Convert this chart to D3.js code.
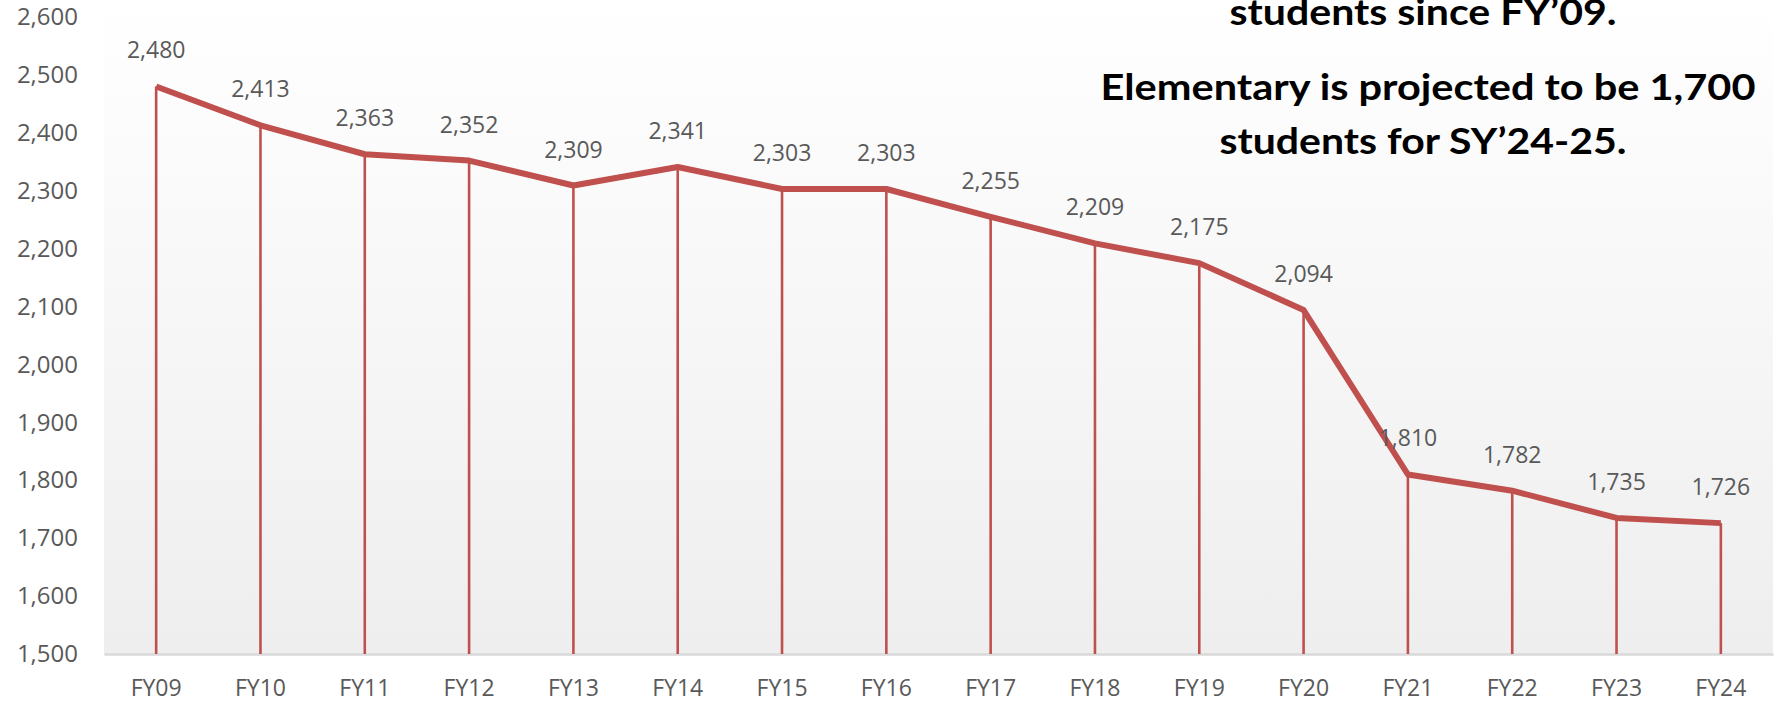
<!DOCTYPE html>
<html>
<head>
<meta charset="utf-8">
<script src="https://cdn.jsdelivr.net/npm/d3@7"></script>
<style>
  html, body { margin: 0; padding: 0; background: #fff; overflow: hidden; }
  svg { display: block; }
</style>
</head>
<body>
<div id="chart"></div>
<script>
// chart values
const years = ["FY09", "FY10", "FY11", "FY12", "FY13", "FY14", "FY15", "FY16",
               "FY17", "FY18", "FY19", "FY20", "FY21", "FY22", "FY23", "FY24"];
const enrollment = [2480, 2413, 2363, 2352, 2309, 2341, 2303, 2303,
                    2255, 2209, 2175, 2094, 1810, 1782, 1735, 1726];
const y_ticks = [1500, 1600, 1700, 1800, 1900, 2000, 2100, 2200, 2300, 2400, 2500, 2600];
const note_lines = ["students since FY\u201909.",
                    "Elementary is projected to be 1,700",
                    "students for SY\u201924-25."];

const width = 1777, height = 703;
const plot = {left: 104, right: 1773, top: 17, bottom: 654};
const C = {
  line_color: '#c0504d',
  text_color: '#595959',
  axis_color: '#d9d9d9',
  font: '"Open Sans", sans-serif',
};

const svg = d3.select('#chart').append('svg')
  .attr('width', width)
  .attr('height', height);

// plot area background, white fading to light grey
const grad = svg.append('defs').append('linearGradient')
  .attr('id', 'bg')
  .attr('x1', 0).attr('y1', 0).attr('x2', 0).attr('y2', 1);
grad.append('stop').attr('offset', '0%').attr('stop-color', '#ffffff');
grad.append('stop').attr('offset', '100%').attr('stop-color', '#eeeeee');

svg.append('rect')
  .attr('x', plot.left)
  .attr('y', 0)
  .attr('width', plot.right - plot.left)
  .attr('height', plot.bottom)
  .attr('fill', 'url(#bg)');

const X = d3.scaleBand().domain(years).range([plot.left, plot.right]);
const Y = d3.scaleLinear().domain([1500, 2600]).range([plot.bottom, plot.top]);
const cx = d => X(d) + X.bandwidth() / 2;

// y axis labels (no line, no ticks)
const y_axis = svg.append('g')
  .attr('transform', `translate(${plot.left},0)`)
  .call(d3.axisLeft(Y).tickValues(y_ticks).tickFormat(d3.format(',')).tickSize(0).tickPadding(26));
y_axis.select('.domain').remove();
y_axis.selectAll('text')
  .attr('font-family', C.font)
  .attr('font-size', 24)
  .attr('fill', C.text_color);

// x axis
const x_axis = svg.append('g')
  .attr('transform', `translate(0,${plot.bottom})`)
  .call(d3.axisBottom(X).tickSize(0).tickPadding(26));
x_axis.select('.domain')
  .attr('stroke', C.axis_color)
  .attr('stroke-width', 2.5);
x_axis.selectAll('text')
  .attr('font-family', C.font)
  .attr('font-size', 23)
  .attr('fill', C.text_color);

const pts = years.map((yr, i) => ({yr, v: enrollment[i]}));

// drop lines from each point to the axis
svg.append('g').selectAll('line')
  .data(pts)
  .join('line')
  .attr('x1', d => cx(d.yr))
  .attr('x2', d => cx(d.yr))
  .attr('y1', d => Y(d.v))
  .attr('y2', plot.bottom)
  .attr('stroke', C.line_color)
  .attr('stroke-width', 2.6);

// main line
svg.append('path')
  .datum(pts)
  .attr('fill', 'none')
  .attr('stroke', C.line_color)
  .attr('stroke-width', 6)
  .attr('stroke-linejoin', 'round')
  .attr('d', d3.line().x(d => cx(d.yr)).y(d => Y(d.v)));

// value labels
svg.append('g').selectAll('text')
  .data(pts)
  .join('text')
  .attr('x', d => cx(d.yr))
  .attr('y', d => Y(d.v) - 28)
  .attr('text-anchor', 'middle')
  .attr('font-family', C.font)
  .attr('font-size', 23)
  .attr('fill', C.text_color)
  .text(d => d3.format(',')(d.v));

// note in the top right
const note_pos = [
  {cx: 1423, y: 25, w: 387},
  {cx: 1428, y: 100, w: 655},
  {cx: 1423, y: 154, w: 407},
];
svg.append('g').selectAll('text')
  .data(note_lines)
  .join('text')
  .attr('x', (d, i) => note_pos[i].cx)
  .attr('y', (d, i) => note_pos[i].y)
  .attr('text-anchor', 'middle')
  .attr('font-family', 'Lato, sans-serif')
  .attr('font-weight', 'bold')
  .attr('font-size', 37)
  .attr('fill', '#000')
  .attr('textLength', (d, i) => note_pos[i].w)
  .attr('lengthAdjust', 'spacingAndGlyphs')
  .text(d => d);
</script>
</body>
</html>
